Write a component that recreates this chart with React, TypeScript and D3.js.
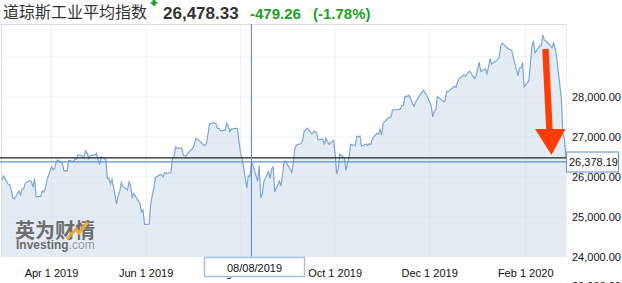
import React from "react";
import * as d3 from "d3";

const dates: string[] = [
  "2019-02-28","2019-03-01","2019-03-04","2019-03-05","2019-03-06","2019-03-07","2019-03-08","2019-03-11","2019-03-12","2019-03-13","2019-03-14","2019-03-15","2019-03-18","2019-03-19","2019-03-20","2019-03-21","2019-03-22","2019-03-25","2019-03-26","2019-03-27","2019-03-28","2019-03-29",
  "2019-04-01","2019-04-02","2019-04-03","2019-04-04","2019-04-05","2019-04-08","2019-04-09","2019-04-10","2019-04-11","2019-04-12","2019-04-15","2019-04-16","2019-04-17","2019-04-18","2019-04-22","2019-04-23","2019-04-24","2019-04-25","2019-04-26","2019-04-29","2019-04-30",
  "2019-05-01","2019-05-02","2019-05-03","2019-05-06","2019-05-07","2019-05-08","2019-05-09","2019-05-10","2019-05-13","2019-05-14","2019-05-15","2019-05-16","2019-05-17","2019-05-20","2019-05-21","2019-05-22","2019-05-23","2019-05-24","2019-05-28","2019-05-29","2019-05-30","2019-05-31",
  "2019-06-03","2019-06-04","2019-06-05","2019-06-06","2019-06-07","2019-06-10","2019-06-11","2019-06-12","2019-06-13","2019-06-14","2019-06-17","2019-06-18","2019-06-19","2019-06-20","2019-06-21","2019-06-24","2019-06-25","2019-06-26","2019-06-27","2019-06-28",
  "2019-07-01","2019-07-02","2019-07-03","2019-07-05","2019-07-08","2019-07-09","2019-07-10","2019-07-11","2019-07-12","2019-07-15","2019-07-16","2019-07-17","2019-07-18","2019-07-19","2019-07-22","2019-07-23","2019-07-24","2019-07-25","2019-07-26","2019-07-29","2019-07-30","2019-07-31",
  "2019-08-01","2019-08-02","2019-08-05","2019-08-06","2019-08-07","2019-08-08","2019-08-09","2019-08-12","2019-08-13","2019-08-14","2019-08-15","2019-08-16","2019-08-19","2019-08-20","2019-08-21","2019-08-22","2019-08-23","2019-08-26","2019-08-27","2019-08-28","2019-08-29","2019-08-30",
  "2019-09-03","2019-09-04","2019-09-05","2019-09-06","2019-09-09","2019-09-10","2019-09-11","2019-09-12","2019-09-13","2019-09-16","2019-09-17","2019-09-18","2019-09-19","2019-09-20","2019-09-23","2019-09-24","2019-09-25","2019-09-26","2019-09-27","2019-09-30",
  "2019-10-01","2019-10-02","2019-10-03","2019-10-04","2019-10-07","2019-10-08","2019-10-09","2019-10-10","2019-10-11","2019-10-14","2019-10-15","2019-10-16","2019-10-17","2019-10-18","2019-10-21","2019-10-22","2019-10-23","2019-10-24","2019-10-25","2019-10-28","2019-10-29","2019-10-30","2019-10-31",
  "2019-11-01","2019-11-04","2019-11-05","2019-11-06","2019-11-07","2019-11-08","2019-11-11","2019-11-12","2019-11-13","2019-11-14","2019-11-15","2019-11-18","2019-11-19","2019-11-20","2019-11-21","2019-11-22","2019-11-25","2019-11-26","2019-11-27","2019-11-29",
  "2019-12-02","2019-12-03","2019-12-04","2019-12-05","2019-12-06","2019-12-09","2019-12-10","2019-12-11","2019-12-12","2019-12-13","2019-12-16","2019-12-17","2019-12-18","2019-12-19","2019-12-20","2019-12-23","2019-12-24","2019-12-26","2019-12-27","2019-12-30","2019-12-31",
  "2020-01-02","2020-01-03","2020-01-06","2020-01-07","2020-01-08","2020-01-09","2020-01-10","2020-01-13","2020-01-14","2020-01-15","2020-01-16","2020-01-17","2020-01-21","2020-01-22","2020-01-23","2020-01-24","2020-01-27","2020-01-28","2020-01-29","2020-01-30","2020-01-31",
  "2020-02-03","2020-02-04","2020-02-05","2020-02-06","2020-02-07","2020-02-10","2020-02-11","2020-02-12","2020-02-13","2020-02-14","2020-02-18","2020-02-19","2020-02-20","2020-02-21","2020-02-24","2020-02-25","2020-02-26","2020-02-27"
];

const closes: number[] = [
  25916,26026,25820,25806,25673,25473,25450,25650,25554,25702,25709,25849,25914,25887,25745,25962,25502,25516,25657,25626,25717,25929,
  26258,26180,26218,26385,26425,26341,26150,26157,26143,26412,26384,26453,26449,26559,26511,26656,26597,26462,26543,26554,26593,
  26430,26308,26505,26438,25965,25967,25828,25942,25324,25532,25648,25862,25764,25679,25877,25776,25490,25585,25347,25126,25169,24815,
  24819,25332,25539,25720,25984,26062,26048,26004,26106,26090,26112,26465,26504,26753,26719,26727,26548,26536,26526,26600,
  26717,26786,26966,26922,26806,26783,26860,27088,27332,27359,27336,27219,27223,27154,27172,27350,27270,27141,27192,27222,27199,26864,
  26583,26485,25718,26030,26008,26378,26287,25897,26280,25479,25579,25886,26136,25962,26202,26253,25628,25898,25778,26036,26363,26403,
  26118,26356,26728,26797,26835,26909,27137,27182,27220,27076,27111,27147,27094,26935,26949,26808,26970,26891,26820,26917,
  26573,26079,26202,26573,26478,26165,26347,26497,26817,26787,27025,27002,27026,26770,26828,26788,26834,26806,26958,27091,27071,27186,27046,
  27347,27462,27492,27493,27675,27681,27691,27691,27784,27782,28005,28036,27934,27821,27767,27876,28066,28122,28165,28051,
  27783,27503,27650,27678,28015,27910,27882,27911,28133,28135,28236,28268,28240,28377,28455,28551,28516,28622,28645,28462,28538,
  28868,28635,28703,28583,28745,28957,28824,28907,28940,29030,29298,29348,29196,29186,29160,28990,28535,28723,28734,28860,28256,
  28400,28808,29291,29380,29103,29276,29277,29551,29423,29398,29232,29348,29220,28992,27961,27081,26957,26478
];

const xTickDates: string[] = ["2019-04-01", "2019-06-01", "2019-08-01", "2019-10-01", "2019-12-01", "2020-02-01"];
const yGridValues: number[] = [25000, 26000, 27000, 28000, 29000];
const yLabelValues: number[] = [24000, 25000, 26000, 27000, 28000];
const title = "道琼斯工业平均指数";
const lastPrice = 26478.33;
const changeText = "-479.26";
const changePctText = "(-1.78%)";
const crosshairDate = "2019-08-08";
const crosshairValue = 26378.19;

const SANS = "'Liberation Sans', Arial, Helvetica, sans-serif";
const CJK = "'Noto Sans CJK SC', 'Noto Sans', sans-serif";

export default function App() {
  const W = 622, H = 283;
  const left = 2, right = 566, top = 24, bottom = 257;
  const parse = d3.timeParse("%Y-%m-%d");
  const data = dates.map((d, i) => ({ date: parse(d) as Date, value: closes[i] }));

  const x = d3.scaleTime()
    .domain([parse("2019-02-28") as Date, parse("2020-02-27") as Date])
    .range([left, right]);
  const y = d3.scaleLinear().domain([24000, 29825]).range([bottom, top]);

  const line = d3.line<{ date: Date; value: number }>()
    .x(d => x(d.date)).y(d => y(d.value));
  const area = d3.area<{ date: Date; value: number }>()
    .x(d => x(d.date)).y0(bottom).y1(d => y(d.value));

  const fmtDate = d3.timeFormat("%b %-d %Y");
  const fmtNum = d3.format(",.2f");
  const fmtCross = d3.timeFormat("%m/%d/%Y");

  const chX = x(parse(crosshairDate) as Date);
  const chY = y(crosshairValue);
  const lastY = y(lastPrice);

  const green = "#22a022";

  return (
    <svg width={W} height={H} style={{ position: "absolute", left: 0, top: 0, background: "#fff" }}>
      <rect x={0} y={0} width={W} height={H} fill="#fff" />
      <defs>
        <clipPath id="plotclip">
          <rect x={left} y={top} width={right - left} height={bottom - top} />
        </clipPath>
      </defs>
      {/* area */}
      <path d={area(data) || ""} fill="#e3ecf2" clipPath="url(#plotclip)" />
      {/* grid */}
      {yGridValues.map(v => (
        <line key={"g" + v} x1={left} x2={right} y1={y(v)} y2={y(v)} stroke="#d4dde6" strokeOpacity={0.45} />
      ))}
      {xTickDates.map(d => {
        const xx = x(parse(d) as Date);
        return <line key={"vg" + d} x1={xx} x2={xx} y1={top} y2={bottom} stroke="#d4dde6" strokeOpacity={0.45} />;
      })}
      {/* borders */}
      <line x1={0} x2={right} y1={top + 0.5} y2={top + 0.5} stroke="#dddddd" />
      <line x1={1.5} x2={1.5} y1={top} y2={bottom} stroke="#dddddd" />
      <line x1={right + 0.5} x2={right + 0.5} y1={top} y2={bottom} stroke="#eeeeee" />
      {/* line */}
      <path d={line(data) || ""} fill="none" stroke="#7aa6d8" strokeWidth={1.2} clipPath="url(#plotclip)" />
      {/* current price line */}
      <line x1={0} x2={right} y1={lastY} y2={lastY} stroke="#222" strokeWidth={1.2} />
      {/* crosshair */}
      <line x1={0} x2={right} y1={chY} y2={chY} stroke="#5f8fcc" strokeWidth={1.1} />
      <line x1={chX} x2={chX} y1={top} y2={bottom} stroke="#5f8fcc" strokeWidth={1.1} />
      {/* x labels */}
      {xTickDates.map(d => (
        <text key={"xl" + d} x={x(parse(d) as Date)} y={277} textAnchor="middle" fontFamily={SANS} fontSize={11} fill="#111">
          {fmtDate(parse(d) as Date)}
        </text>
      ))}
      {/* y labels */}
      {yLabelValues.map(v => (
        <text key={"yl" + v} x={572} y={y(v) + 4} fontFamily={SANS} fontSize={11} fill="#111">{fmtNum(v)}</text>
      ))}
      <text x={572} y={290} fontFamily={SANS} fontSize={11} fill="#111">{fmtNum(23000)}</text>
      {/* watermark */}
      <text x={15} y={238} fontFamily={CJK} fontSize={20} fontWeight={700} fill="#6e6e6e">英为财情</text>
      <path d="M67,239 L76,229 L79,233 L88,222" fill="none" stroke="#f0a83a" strokeWidth={3} />
      <text x={16} y={249} fontFamily={SANS} fontSize={12} fill="#6e6e6e">
        <tspan fontWeight={700}>Investing</tspan><tspan fill="#9a9a9a">.com</tspan>
      </text>
      {/* crosshair date box */}
      <rect x={204.5} y={257.5} width={100} height={19} fill="#fff" stroke="#a9c0e0" strokeWidth={1.5} />
      <text x={254.5} y={271.5} textAnchor="middle" fontFamily={SANS} fontSize={11} fill="#111">{fmtCross(parse(crosshairDate) as Date)}</text>
      {/* price label box */}
      <rect x={566.5} y={152} width={52} height={20} fill="#fff" stroke="#6f9bd2" strokeWidth={1.2} />
      <text x={569} y={166} fontFamily={SANS} fontSize={11} fill="#111">{fmtNum(crosshairValue)}</text>
      {/* red arrow */}
      <line x1={545.5} y1={49} x2={549.5} y2={131} stroke="#ff3d0a" strokeWidth={6.5} />
      <polygon points="535,129 565.5,129 551.5,155" fill="#ff3d0a" />
      {/* header */}
      <text x={3} y={18} fontFamily={CJK} fontSize={16} fill="#333">{title}</text>
      <path d="M152.5,0 L155.5,0 L155.5,2 L158,2 L154,6.5 L150,2 L152.5,2 Z" fill={green} />
      <text x={163} y={19} fontFamily={SANS} fontSize={17} fontWeight={700} fill="#333">{d3.format(",.2f")(lastPrice)}</text>
      <text x={250} y={19} fontFamily={SANS} fontSize={15} fontWeight={700} fill={green}>{changeText}</text>
      <text x={313} y={19} fontFamily={SANS} fontSize={15} fontWeight={700} fill={green}>{changePctText}</text>
    </svg>
  );
}
